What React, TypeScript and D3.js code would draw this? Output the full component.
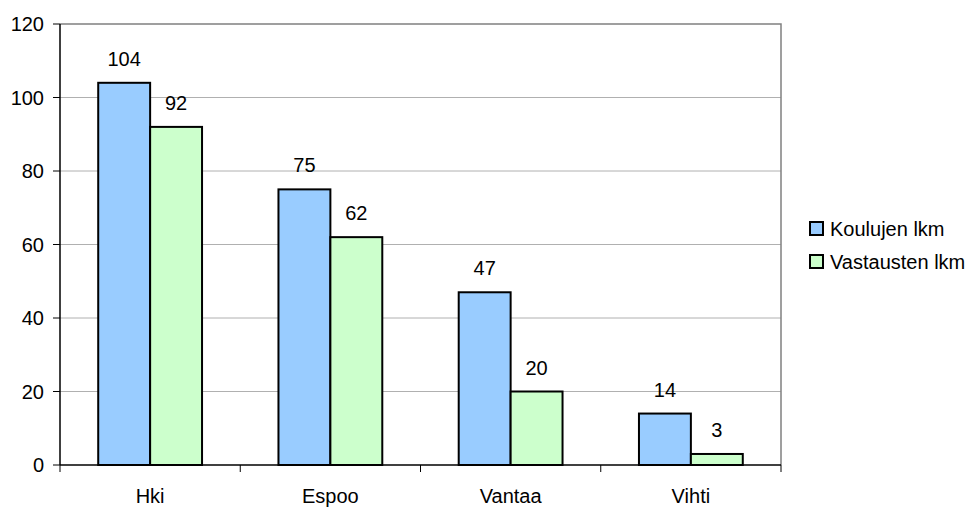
import * as d3 from 'd3';
import { useEffect, useRef } from 'react';

const categories = ['Hki', 'Espoo', 'Vantaa', 'Vihti'];
const seriesNames = ['Koulujen lkm', 'Vastausten lkm'];
const koulujen = [104, 75, 47, 14];
const vastausten = [92, 62, 20, 3];
const yTicks = [0, 20, 40, 60, 80, 100, 120];
const colors = ['#99ccff', '#ccffcc'];

const App = () => {
  const ref = useRef<SVGSVGElement>(null);

  useEffect(() => {
    const width = 977;
    const height = 507;
    const margin = { top: 24, right: 196, bottom: 42, left: 60 };
    const font = 'Liberation Sans, Arial, sans-serif';
    const fs = 20;

    const svg = d3.select(ref.current);
    svg.selectAll('*').remove();

    const x0 = d3
      .scaleBand()
      .domain(categories)
      .range([margin.left, width - margin.right])
      .padding(0);
    const bw = x0.bandwidth();
    const x1 = d3
      .scaleBand()
      .domain(seriesNames)
      .range([bw * 0.212, bw * 0.788])
      .padding(0);

    const y = d3
      .scaleLinear()
      .domain([0, 120])
      .range([height - margin.bottom, margin.top]);

    const x0L = margin.left;
    const x0R = width - margin.right;

    // gridlines
    svg
      .append('g')
      .selectAll('line')
      .data(yTicks.filter((t) => t > 0 && t < 120))
      .join('line')
      .attr('x1', x0L)
      .attr('x2', x0R)
      .attr('y1', (d) => y(d))
      .attr('y2', (d) => y(d))
      .attr('stroke', '#b0b0b0')
      .attr('stroke-width', 1);

    // plot border (top/right)
    svg
      .append('path')
      .attr('d', `M${x0L},${y(120)}H${x0R}V${y(0)}`)
      .attr('fill', 'none')
      .attr('stroke', '#808080')
      .attr('stroke-width', 1.5);

    const data = categories.map((c, i) => ({
      cat: c,
      values: [
        { key: seriesNames[0], v: koulujen[i] },
        { key: seriesNames[1], v: vastausten[i] },
      ],
    }));

    const groups = svg
      .append('g')
      .selectAll('g')
      .data(data)
      .join('g')
      .attr('transform', (d) => `translate(${x0(d.cat)},0)`);

    groups
      .selectAll('rect')
      .data((d) => d.values)
      .join('rect')
      .attr('x', (d) => x1(d.key)!)
      .attr('y', (d) => y(d.v))
      .attr('width', x1.bandwidth())
      .attr('height', (d) => y(0) - y(d.v))
      .attr('fill', (d, i) => colors[i])
      .attr('stroke', '#000')
      .attr('stroke-width', 2);

    groups
      .selectAll('text')
      .data((d) => d.values)
      .join('text')
      .attr('x', (d) => x1(d.key)! + x1.bandwidth() / 2)
      .attr('y', (d) => y(d.v) - 17)
      .attr('text-anchor', 'middle')
      .attr('font-family', font)
      .attr('font-size', fs)
      .text((d) => d.v);

    // y axis
    const yAxis = svg.append('g');
    yAxis
      .append('line')
      .attr('x1', x0L)
      .attr('x2', x0L)
      .attr('y1', y(0))
      .attr('y2', y(120))
      .attr('stroke', '#000')
      .attr('stroke-width', 1.5);
    yAxis
      .selectAll('line.tick')
      .data(yTicks)
      .join('line')
      .attr('class', 'tick')
      .attr('x1', x0L - 7)
      .attr('x2', x0L)
      .attr('y1', (d) => y(d))
      .attr('y2', (d) => y(d))
      .attr('stroke', '#000')
      .attr('stroke-width', 1);
    yAxis
      .selectAll('text')
      .data(yTicks)
      .join('text')
      .attr('x', x0L - 16)
      .attr('y', (d) => y(d))
      .attr('dy', '0.36em')
      .attr('text-anchor', 'end')
      .attr('font-family', font)
      .attr('font-size', fs)
      .text((d) => d);

    // x axis
    const xAxis = svg.append('g');
    xAxis
      .append('line')
      .attr('x1', x0L)
      .attr('x2', x0R)
      .attr('y1', y(0))
      .attr('y2', y(0))
      .attr('stroke', '#000')
      .attr('stroke-width', 1.5);
    const bounds = [...categories.map((c) => x0(c)!), x0R];
    xAxis
      .selectAll('line.tick')
      .data(bounds)
      .join('line')
      .attr('class', 'tick')
      .attr('x1', (d) => d)
      .attr('x2', (d) => d)
      .attr('y1', y(0))
      .attr('y2', y(0) + 7)
      .attr('stroke', '#000')
      .attr('stroke-width', 1);
    xAxis
      .selectAll('text')
      .data(categories)
      .join('text')
      .attr('x', (d) => x0(d)! + bw / 2)
      .attr('y', y(0) + 38)
      .attr('text-anchor', 'middle')
      .attr('font-family', font)
      .attr('font-size', fs)
      .text((d) => d);

    // legend
    const legend = svg
      .append('g')
      .selectAll('g')
      .data(seriesNames)
      .join('g')
      .attr('transform', (d, i) => `translate(810,${222 + i * 33})`);
    legend
      .append('rect')
      .attr('width', 13)
      .attr('height', 13)
      .attr('fill', (d, i) => colors[i])
      .attr('stroke', '#000')
      .attr('stroke-width', 2);
    legend
      .append('text')
      .attr('x', 20)
      .attr('y', 7)
      .attr('dy', '0.36em')
      .attr('font-family', font)
      .attr('font-size', fs)
      .text((d) => d);
  }, []);

  return (
    <svg
      ref={ref}
      width={977}
      height={507}
      style={{ position: 'absolute', left: 0, top: 0, background: '#fff' }}
    />
  );
};

export default App;
